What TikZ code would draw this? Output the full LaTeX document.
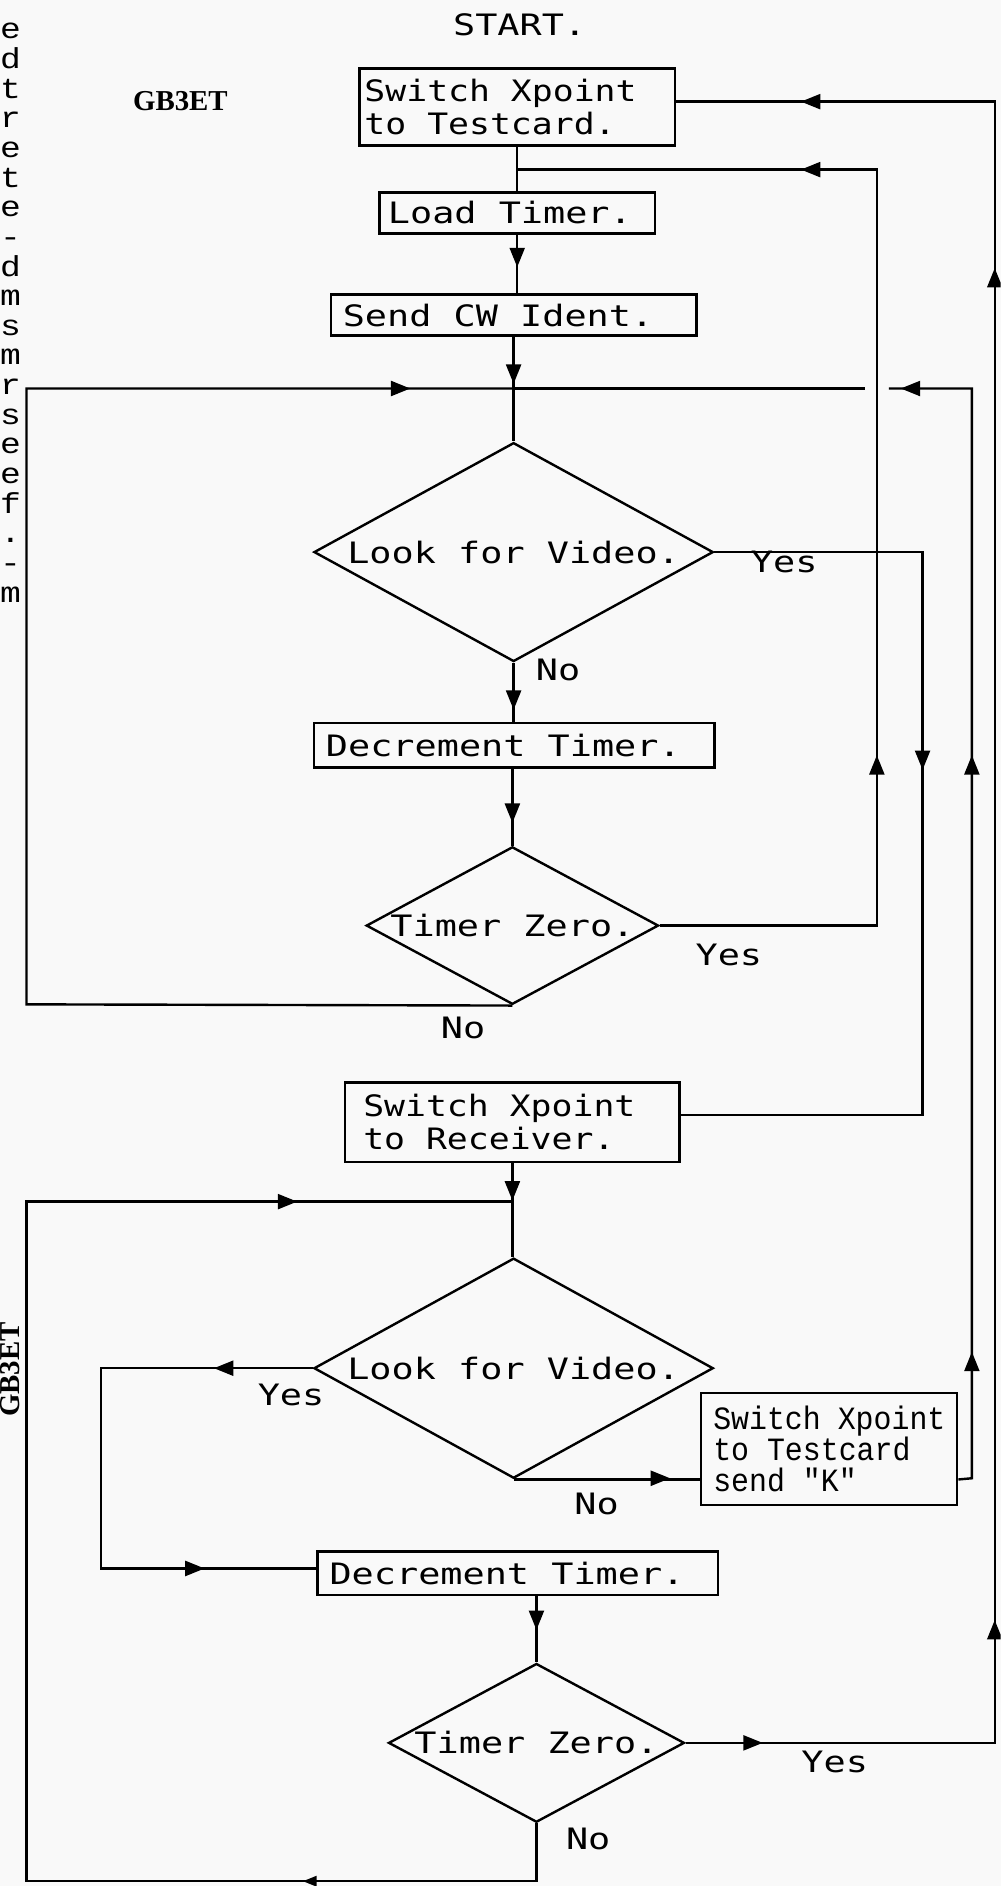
\documentclass[tikz,border=0pt]{standalone}
\usepackage{fontspec}
\usetikzlibrary{shapes.geometric}
\newfontfamily\plotfont[FakeStretch=1.25]{DejaVu Sans Mono}
\newfontfamily\plotfontn[FakeStretch=1.18]{DejaVu Sans Mono}
\newfontfamily\typefont[FakeStretch=0.92]{Liberation Mono}
\newfontfamily\margfont[FakeStretch=1.2]{Liberation Mono}
\newfontfamily\serifbold{Liberation Serif}
\definecolor{paper}{RGB}{249,249,249}
\begin{document}
\begin{tikzpicture}[x=1pt,y=-1pt,
  flow/.style={line width=2pt},
  plotfnt/.style={font=\plotfont\fontsize{24.5pt}{27pt}\selectfont},
  plotfntn/.style={font=\plotfontn\fontsize{24.5pt}{27pt}\selectfont},
  box/.style={draw, line width=2pt, rectangle, inner ysep=0pt, align=left, plotfnt,
    execute at begin node={\spaceskip=0pt\xspaceskip=0pt}},
  dia/.style={draw, line width=2pt, shape=diamond, inner sep=0pt},
  lab/.style={plotfnt, inner sep=0pt},
  marg/.style={font=\margfont\fontsize{24pt}{26pt}\selectfont, inner sep=0pt, anchor=base west},
  ahead/.pic={\fill (0,0) -- (-16,-6.5) -- (-16,6.5) -- cycle;}
]
\path[use as bounding box, fill=paper] (0,0) rectangle (832,1568);
\clip (0,0) rectangle (832,1568);

% margin remnants
\foreach \c [count=\i from 0] in {e,d,t,r,e,t,e,-,d,m,s,m,r,s,e,e,f,.,-,m}
  \node[marg] (mg\i) at (0,{32.3+24.65*\i}) {\c};
\node[font=\serifbold\bfseries\fontsize{24pt}{26pt}\selectfont, inner sep=0pt] (gbtop) at (150,84) {GB3ET};
\node[font=\serifbold\bfseries\fontsize{24pt}{26pt}\selectfont, inner sep=0pt, rotate=90, anchor=base] (gbside) at (16.5,1138.5) {GB3ET};

% nodes
\node[lab] (start) at (432,21) {START.};
\node[box, plotfntn, text width=254pt, inner xsep=4pt, minimum height=64pt] (box1) at (430,89) {Switch Xpoint\\to Testcard.};
\node[box, text width=215pt, inner xsep=7pt, minimum height=34pt] (load) at (430,177) {Load Timer.};
\node[box, text width=284pt, inner xsep=10pt, minimum height=34pt] (send) at (427,262) {Send CW Ident.};
\node[dia, minimum width=332pt, minimum height=182pt, label={[lab]center:Look for Video.}] (d1) at (427,459) {};
\node[box, text width=313pt, inner xsep=10pt, minimum height=37pt] (dec1) at (427.5,619.5) {Decrement Timer.};
\node[dia, minimum width=243pt, minimum height=131pt, label={[lab]center:Timer Zero.}] (d2) at (426,769.5) {};
\node[box, plotfntn, text width=248pt, inner xsep=15pt, minimum height=66pt] (recv) at (426,933) {Switch Xpoint\\to Receiver.};
\node[dia, minimum width=332pt, minimum height=183pt, label={[lab]center:Look for Video.}] (d3) at (427,1137.5) {};
\node[draw, line width=1.6pt, rectangle, align=left, inner ysep=0pt, text width=193pt, inner xsep=10pt, minimum height=93pt, font=\typefont\fontsize{27pt}{26pt}\selectfont, execute at begin node={\spaceskip=0pt\xspaceskip=0pt}] (sk) at (689.5,1204.5) {Switch Xpoint\\to Testcard\\send "K"};
\node[box, text width=313pt, inner xsep=10pt, minimum height=36pt] (dec2) at (430.5,1308) {Decrement Timer.};
\node[dia, minimum width=246pt, minimum height=132pt, label={[lab]center:Timer Zero.}] (d4) at (446,1449) {};

% labels
\node[lab] (y1) at (652,467) {Yes};
\node[lab] (n1) at (464,557) {No};
\node[lab] (y2) at (606,794) {Yes};
\node[lab] (n2) at (385,855) {No};
\node[lab] (y3) at (242,1160) {Yes};
\node[lab] (n3) at (496,1250) {No};
\node[lab] (y4) at (694,1465) {Yes};
\node[lab] (n4) at (489,1529) {No};

% junction and corner coordinates
\coordinate (j1) at (430,141);
\coordinate (j2) at (427,323);
\coordinate (j3) at (426,999);
\coordinate (gapR) at (739,323);
\coordinate (gapL) at (719,323);

% connectors
\draw[flow] (box1.south) -- (box1.south |- load.north);
\draw[flow] (load.south) -- (load.south |- send.north);
\draw[flow] (send.south) -- (j2) -- (d1.north);
\draw[flow] (d1.south) -- (d1.south |- dec1.north);
\draw[flow] (d2.north |- dec1.south) -- (d2.north);
\draw[flow] (d2.south) -- (22,835) -- (22,323) -- (j2);
\draw[flow] (d2.east) -- (729,769.5) -- (729,141) -- (j1);
\draw[flow] (d1.east) -- (767,459) -- (767,927) -- ([yshift=6pt]recv.east);
\draw[flow] (recv.south) -- (j3) -- (j3 |- d3.north);
\draw[flow] (d4.south) -- (446,1564) -- (22,1564) -- (22,999) -- (j3);
\draw[flow] (d3.west) -- (84,1137.5) -- (84,1304) -- ([yshift=4pt]dec2.west);
\draw[flow] (d3.south) -- (d3.south -| sk.west);
\draw[flow] (sk.east |- d3.south) -- (808,1229) -- (808,323) -- (gapR);
\draw[flow] (gapL) -- (j2);
\draw[flow] (d4.north |- dec2.south) -- (d4.north);
\draw[flow] (d4.east) -- (827,1449) -- (827,84.5) -- ([yshift=4.5pt]box1.east);

% arrowheads
\pic[rotate=180] at (666,84.5) {ahead};
\pic[rotate=180] at (666,141) {ahead};
\pic[rotate=90] at (827,223) {ahead};
\pic[rotate=-90] at (430,222) {ahead};
\pic[rotate=-90] at (427,319) {ahead};
\pic at (341,323) {ahead};
\pic[rotate=180] at (749,323) {ahead};
\pic[rotate=-90] at (427,590) {ahead};
\pic[rotate=90] at (729,628) {ahead};
\pic[rotate=-90] at (767,640) {ahead};
\pic[rotate=90] at (808,628) {ahead};
\pic[rotate=-90] at (426,684) {ahead};
\pic[rotate=-90] at (426,998) {ahead};
\pic at (247,999) {ahead};
\pic[rotate=180] at (178,1137.5) {ahead};
\pic at (170,1304) {ahead};
\pic at (557,1229) {ahead};
\pic[rotate=90] at (808,1124) {ahead};
\pic[rotate=-90] at (446,1355) {ahead};
\pic at (634,1449) {ahead};
\pic[rotate=90] at (827,1347) {ahead};
\pic[rotate=180, scale=0.7] at (252,1564) {ahead};
\end{tikzpicture}
\end{document}
